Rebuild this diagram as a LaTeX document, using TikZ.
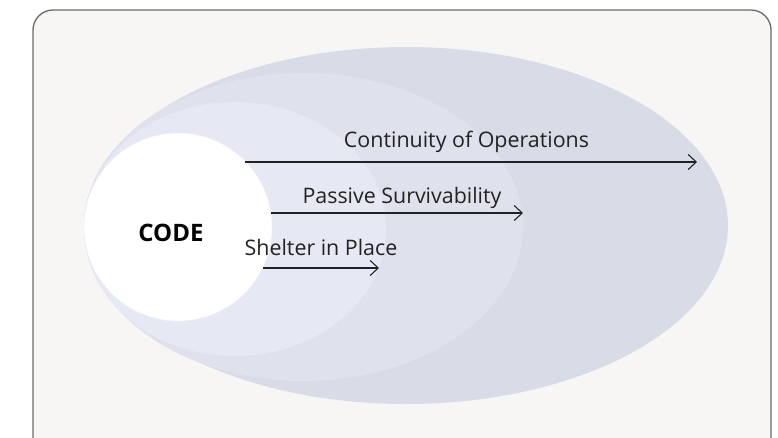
\documentclass[tikz,border=0pt]{standalone}
\usepackage{fontspec}
\setmainfont{Open Sans}
\usetikzlibrary{arrows.meta}
\definecolor{bg}{HTML}{F7F6F4}
\definecolor{frame}{HTML}{6A6A6A}
\definecolor{ringA}{HTML}{D8DCE6}
\definecolor{ringB}{HTML}{DFE2EC}
\definecolor{ringC}{HTML}{E6E9F3}
\definecolor{ink}{HTML}{222222}
\begin{document}
\begin{tikzpicture}[x=1pt,y=-1pt,
  lbl/.style={font=\fontsize{21.4}{25}\selectfont, text=ink, inner sep=0, anchor=base},
  arr/.style={draw=ink, line width=1.1pt, -{Straight Barb[length=8pt,width=15pt]}}]
\useasboundingbox (0,0) rectangle (778,437);
\clip (0,0) rectangle (778,437);
\draw[fill=bg, draw=frame, line width=1.3pt, rounded corners=20pt] (33,10) rectangle (771,460);
\fill[ringA] (406,225.5) ellipse [x radius=322, y radius=178.5];
\fill[ringB] (303.5,227) ellipse [x radius=219.5, y radius=154];
\fill[ringC] (235,229) ellipse [x radius=151, y radius=127];
\node[circle, fill=white, draw=ringC!80!blue!20, line width=0.4pt, minimum size=188pt, inner sep=0] (core) at (178,227) {};
\node[font=\bfseries\fontsize{24}{28}\selectfont, text=black, inner sep=0, anchor=base] (code) at (171,241) {CODE};
\node[lbl] (cont) at (466.5,147) {Continuity of Operations};
\node[lbl] (pass) at (402,203) {Passive Survivability};
\node[lbl] (shel) at (321,255) {Shelter in Place};
\coordinate (c1) at (245,162); \coordinate (c2) at (697,162);
\coordinate (p1) at (271,213); \coordinate (p2) at (523,213);
\coordinate (s1) at (263,268); \coordinate (s2) at (379,268);
\draw[arr] (c1) -- (c2);
\draw[arr] (p1) -- (p2);
\draw[arr] (s1) -- (s2);
\end{tikzpicture}
\end{document}
